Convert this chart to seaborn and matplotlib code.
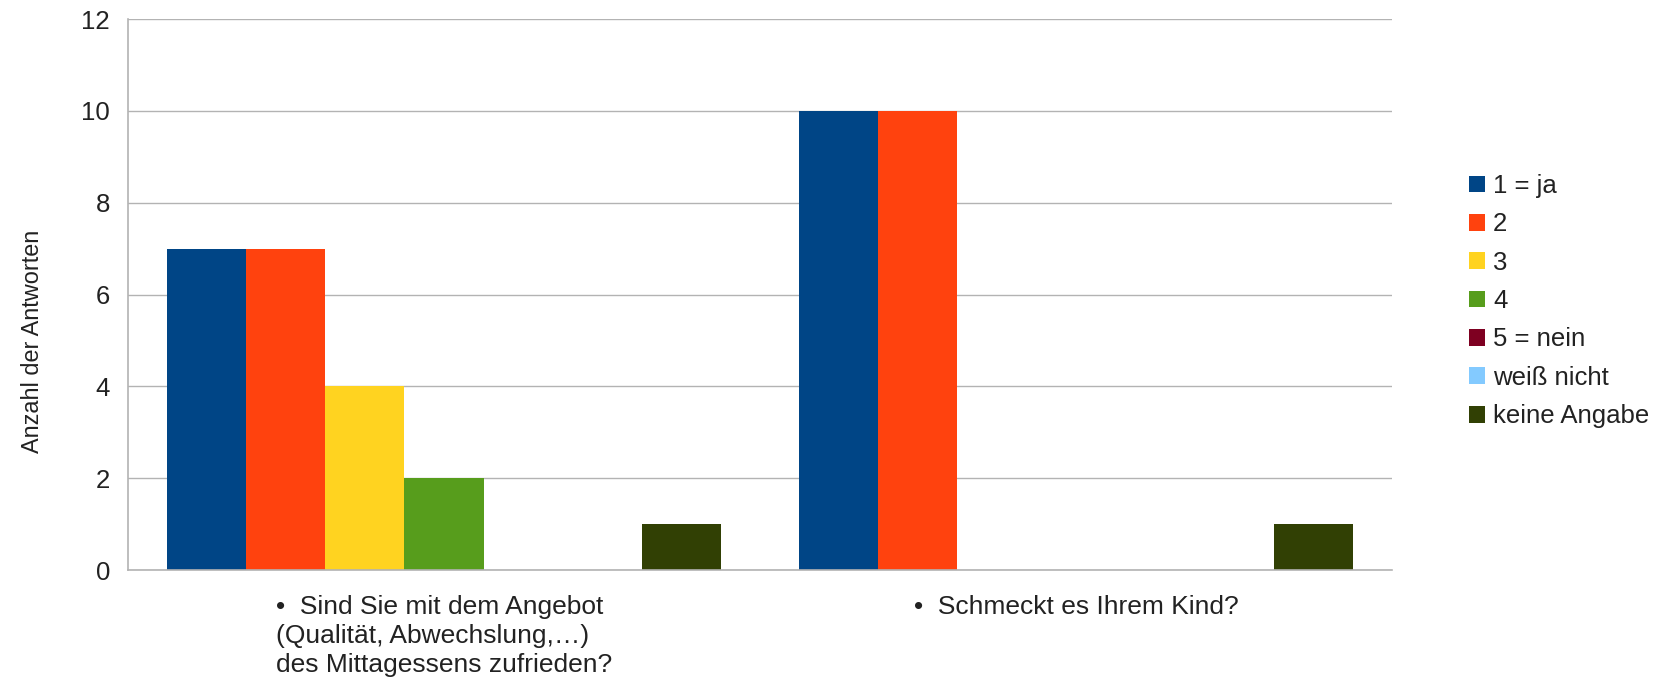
import pandas as pd
import matplotlib.pyplot as plt
import seaborn as sns

fragen = ["•  Sind Sie mit dem Angebot\n(Qualität, Abwechslung,…)\ndes Mittagessens zufrieden?",
          "•  Schmeckt es Ihrem Kind?"]
antworten = ["1 = ja", "2", "3", "4", "5 = nein", "weiß nicht", "keine Angabe"]
werte_frage1 = [7, 7, 4, 2, 0, 0, 1]
werte_frage2 = [10, 10, 0, 0, 0, 0, 1]
farben = ["#004586", "#ff420e", "#ffd320", "#579d1c", "#7e0021", "#83caff", "#314004"]

df = pd.DataFrame({
    "Frage": [fragen[0]] * 7 + [fragen[1]] * 7,
    "Antwort": antworten * 2,
    "Anzahl": werte_frage1 + werte_frage2,
})

sns.set_style("white")
plt.rcParams['font.family'] = ['Liberation Sans', 'DejaVu Sans']
txt = "#222222"
grau = "#b3b3b3"

fig = plt.figure(figsize=(16.66, 6.82), dpi=100)
ax = fig.add_axes([0.0768, 0.1642, 0.7587, 0.8079])
sns.barplot(data=df, x="Frage", y="Anzahl", hue="Antwort", hue_order=antworten,
            palette=farben, width=0.877, saturation=1, linewidth=0, ax=ax, legend=True)

ax.set_ylim(0, 12)
ax.set_xlim(-0.5, 1.5)
ax.set_yticks(range(0, 13, 2))
ax.yaxis.grid(True, color=grau, linewidth=1)
ax.set_axisbelow(True)
for s in ["top", "right"]:
    ax.spines[s].set_visible(False)
for s in ["left", "bottom"]:
    ax.spines[s].set_color(grau)
    ax.spines[s].set_linewidth(1.2)

# Trennstriche zwischen den Kategorien, Beschriftung in der Mitte
ax.set_xticks([-0.5, 0.5, 1.5])
ax.set_xticklabels(["", "", ""])
ax.set_xticks([0, 1], minor=True)
ax.set_xticklabels(fragen, minor=True, fontsize=19, color=txt, ha="center",
                   multialignment="left", va="top", linespacing=1.27)
ax.tick_params(axis="x", which="major", length=8, color=grau, width=1.2)
ax.tick_params(axis="x", which="minor", length=0, pad=18)
ax.tick_params(axis="y", length=8, color=grau, width=1.2, labelsize=18.5, labelcolor=txt, pad=5)

ax.set_xlabel("")
ax.set_ylabel("")
fig.text(0.0194, 0.5, "Anzahl der Antworten", fontsize=16.9, color=txt,
         rotation=90, ha="center", va="center")

handles, labels = ax.get_legend_handles_labels()
ax.get_legend().remove()
fig.legend(handles, labels, loc="upper left", bbox_to_anchor=(0.8818, 0.745), frameon=False,
           fontsize=18.5, handlelength=0.62, handleheight=0.62, handletextpad=0.31,
           labelspacing=0.56, labelcolor=txt, borderaxespad=0, borderpad=0)

fig.savefig("out.png", dpi=100)
